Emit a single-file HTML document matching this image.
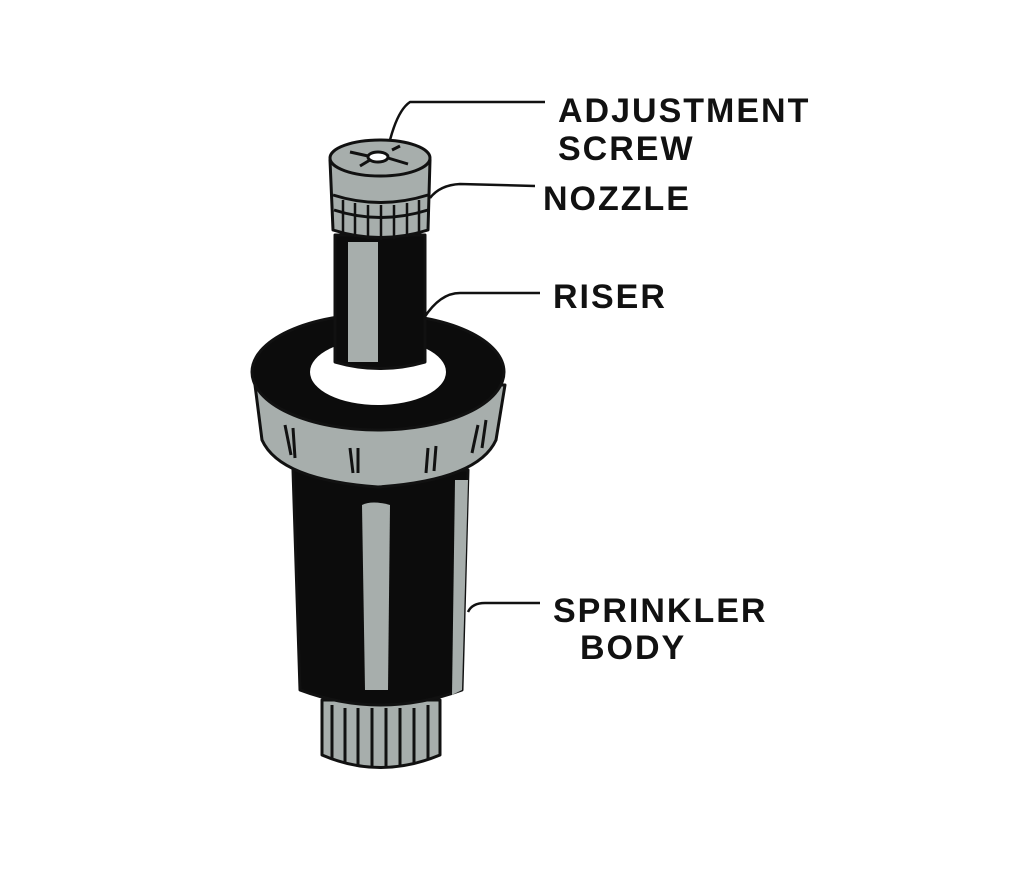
<!DOCTYPE html>
<html><head><meta charset="utf-8"><style>
html,body{margin:0;padding:0;background:#fff;}
svg{display:block}
text{font-family:"Liberation Sans",sans-serif;font-weight:bold;fill:#111;letter-spacing:2px;}
</style></head><body>
<svg width="1024" height="888" viewBox="0 0 1024 888" xmlns="http://www.w3.org/2000/svg">
<g stroke="#111" stroke-width="3" stroke-linejoin="round">
<path d="M322 700 L322 755 Q380 780 440 755 L440 700 Z" fill="#a7aeac"/>
<g stroke-width="3">
<line x1="332" y1="705" x2="332" y2="758"/><line x1="345" y1="708" x2="345" y2="764"/>
<line x1="358" y1="708" x2="358" y2="767"/><line x1="372" y1="708" x2="372" y2="768"/>
<line x1="386" y1="708" x2="386" y2="768"/><line x1="400" y1="708" x2="400" y2="767"/>
<line x1="414" y1="708" x2="414" y2="764"/><line x1="428" y1="705" x2="428" y2="760"/>
</g>
<path d="M293 470 L300 690 Q380 720 462 690 L468 470 Z" fill="#0c0c0c"/>
<path d="M455 480 L468 480 L462 690 L452 695 Z" fill="#a7aeac" stroke="none"/>
<path d="M362 505 Q372 500 390 505 L388 690 L365 690 Z" fill="#a7aeac" stroke="none"/>
<path d="M255 385 L262 440 Q280 480 378 487 Q478 480 496 440 L505 385 Z" fill="#a7aeac"/>
<g stroke-width="3" fill="none">
<path d="M285 425 l6 30 M293 428 l2 30"/><path d="M350 448 l3 25 M358 448 l0 25"/>
<path d="M428 448 l-2 25 M436 446 l-2 25"/><path d="M478 425 l-6 28 M486 420 l-4 28"/>
</g>
<ellipse cx="378" cy="372" rx="126" ry="58" fill="#0c0c0c"/>
<ellipse cx="378" cy="372" rx="68" ry="33" fill="#fff" stroke="none"/>
<path d="M335 235 L335 362 Q380 375 425 362 L425 235 Z" fill="#0c0c0c"/>
<rect x="348" y="242" width="30" height="120" fill="#a7aeac" stroke="none"/>
<path d="M330 160 L333 230 Q380 245 428 230 L430 160 Z" fill="#a7aeac"/>
<path d="M333 195 Q380 210 428 195 M334 210 Q380 225 428 210" fill="none"/>
<g stroke-width="2.5"><line x1="343" y1="200" x2="343" y2="232"/><line x1="355" y1="203" x2="355" y2="237"/><line x1="368" y1="205" x2="368" y2="239"/><line x1="381" y1="205" x2="381" y2="240"/><line x1="394" y1="205" x2="394" y2="239"/><line x1="407" y1="203" x2="407" y2="237"/><line x1="419" y1="200" x2="419" y2="233"/></g>
<ellipse cx="380" cy="158" rx="50" ry="18" fill="#a7aeac"/>
<ellipse cx="378" cy="157" rx="10" ry="5" fill="#fff"/>
<path d="M350 152 L368 156 M388 158 L408 164 M360 166 L370 160 M392 150 L400 146" fill="none"/>
<g fill="none" stroke-width="2.5">
<path d="M390 140 Q398 110 410 102 L545 102"/>
<path d="M430 198 Q440 185 460 184 L535 186"/>
<path d="M424 318 Q440 293 460 293 L540 293"/>
<path d="M468 612 Q472 603 485 603 L540 603"/>
</g>
</g>
<text x="558" y="122" font-size="34">ADJUSTMENT</text>
<text x="558" y="160" font-size="34">SCREW</text>
<text x="543" y="210" font-size="34">NOZZLE</text>
<text x="553" y="308" font-size="34">RISER</text>
<text x="553" y="622" font-size="34">SPRINKLER</text>
<text x="580" y="659" font-size="34">BODY</text>
</svg>
</body></html>
